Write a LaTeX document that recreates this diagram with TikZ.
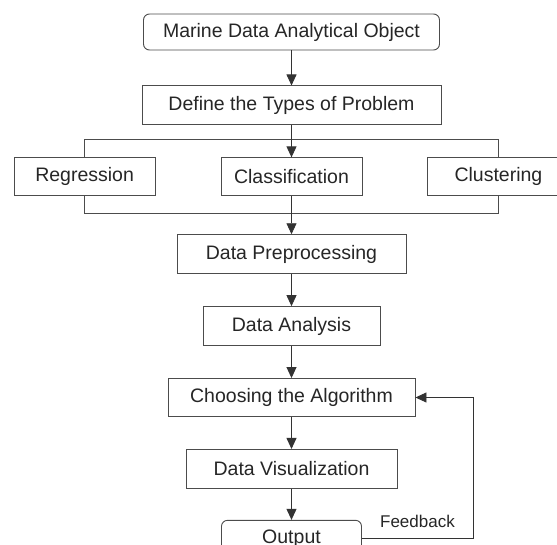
\documentclass[tikz,border=0pt]{standalone}
\usepackage{fontspec}
\setmainfont{Liberation Sans}
\usepackage{tikz}
\usetikzlibrary{arrows.meta, positioning}

\begin{document}
\begin{tikzpicture}[>={Triangle[length=11pt,width=10pt]}, line width=0.9pt,
  block/.style={rectangle, draw=black!70, fill=white, text=black!85,
    minimum height=38pt, inner sep=0pt, align=center,
    font=\fontsize{19.5pt}{23pt}\selectfont},
  rblock/.style={block, rounded corners=6pt},
  flow/.style={->, draw=black!80}]
  \useasboundingbox (0,0) rectangle (557pt,-544pt);
  \clip (0,0) rectangle (557pt,-544pt);

  \node[rblock, minimum width=296pt, minimum height=36pt] (object) at (291.5pt,-32pt) {Marine Data Analytical Object};
  \node[block, minimum width=299pt, minimum height=39pt, below=35pt of object] (define) {Define the Types of Problem};
  \node[block, minimum width=141pt, below=32pt of define] (classification) {Classification};
  \node[block, minimum width=141pt, left=65pt of classification] (regression) {Regression};
  \node[block, minimum width=141pt, right=65pt of classification] (clustering) {Clustering};
  \node[block, minimum width=229pt, minimum height=39pt, below=38pt of classification] (preprocessing) {Data Preprocessing};
  \node[block, minimum width=177pt, minimum height=39pt, below=32pt of preprocessing] (analysis) {Data Analysis};
  \node[block, minimum width=247pt, below=32pt of analysis] (choosing) {Choosing the Algorithm};
  \node[block, minimum width=211pt, minimum height=39pt, below=32pt of choosing] (visualization) {Data Visualization};
  \node[rblock, minimum width=140pt, minimum height=36pt, below=31pt of visualization] (output) {Output};

  % problem types bracket
  \draw[black!70] (regression.north) -- ++(0,18pt) -| (clustering.north);
  \draw[black!70] (regression.south) -- ++(0,-17pt) -| (clustering.south);

  \draw[flow] (object) -- (define);
  \draw[flow] (define) -- (classification);
  \draw[flow] (classification) -- (preprocessing);
  \draw[flow] (preprocessing) -- (analysis);
  \draw[flow] (analysis) -- (choosing);
  \draw[flow] (choosing) -- (visualization);
  \draw[flow] (visualization) -- (output);
  \draw[flow] (output.east) -- node[above=7pt, text=black!85, font=\fontsize{17pt}{20pt}\selectfont] {Feedback} ++(111pt,0) |- (choosing.east);
\end{tikzpicture}
\end{document}
